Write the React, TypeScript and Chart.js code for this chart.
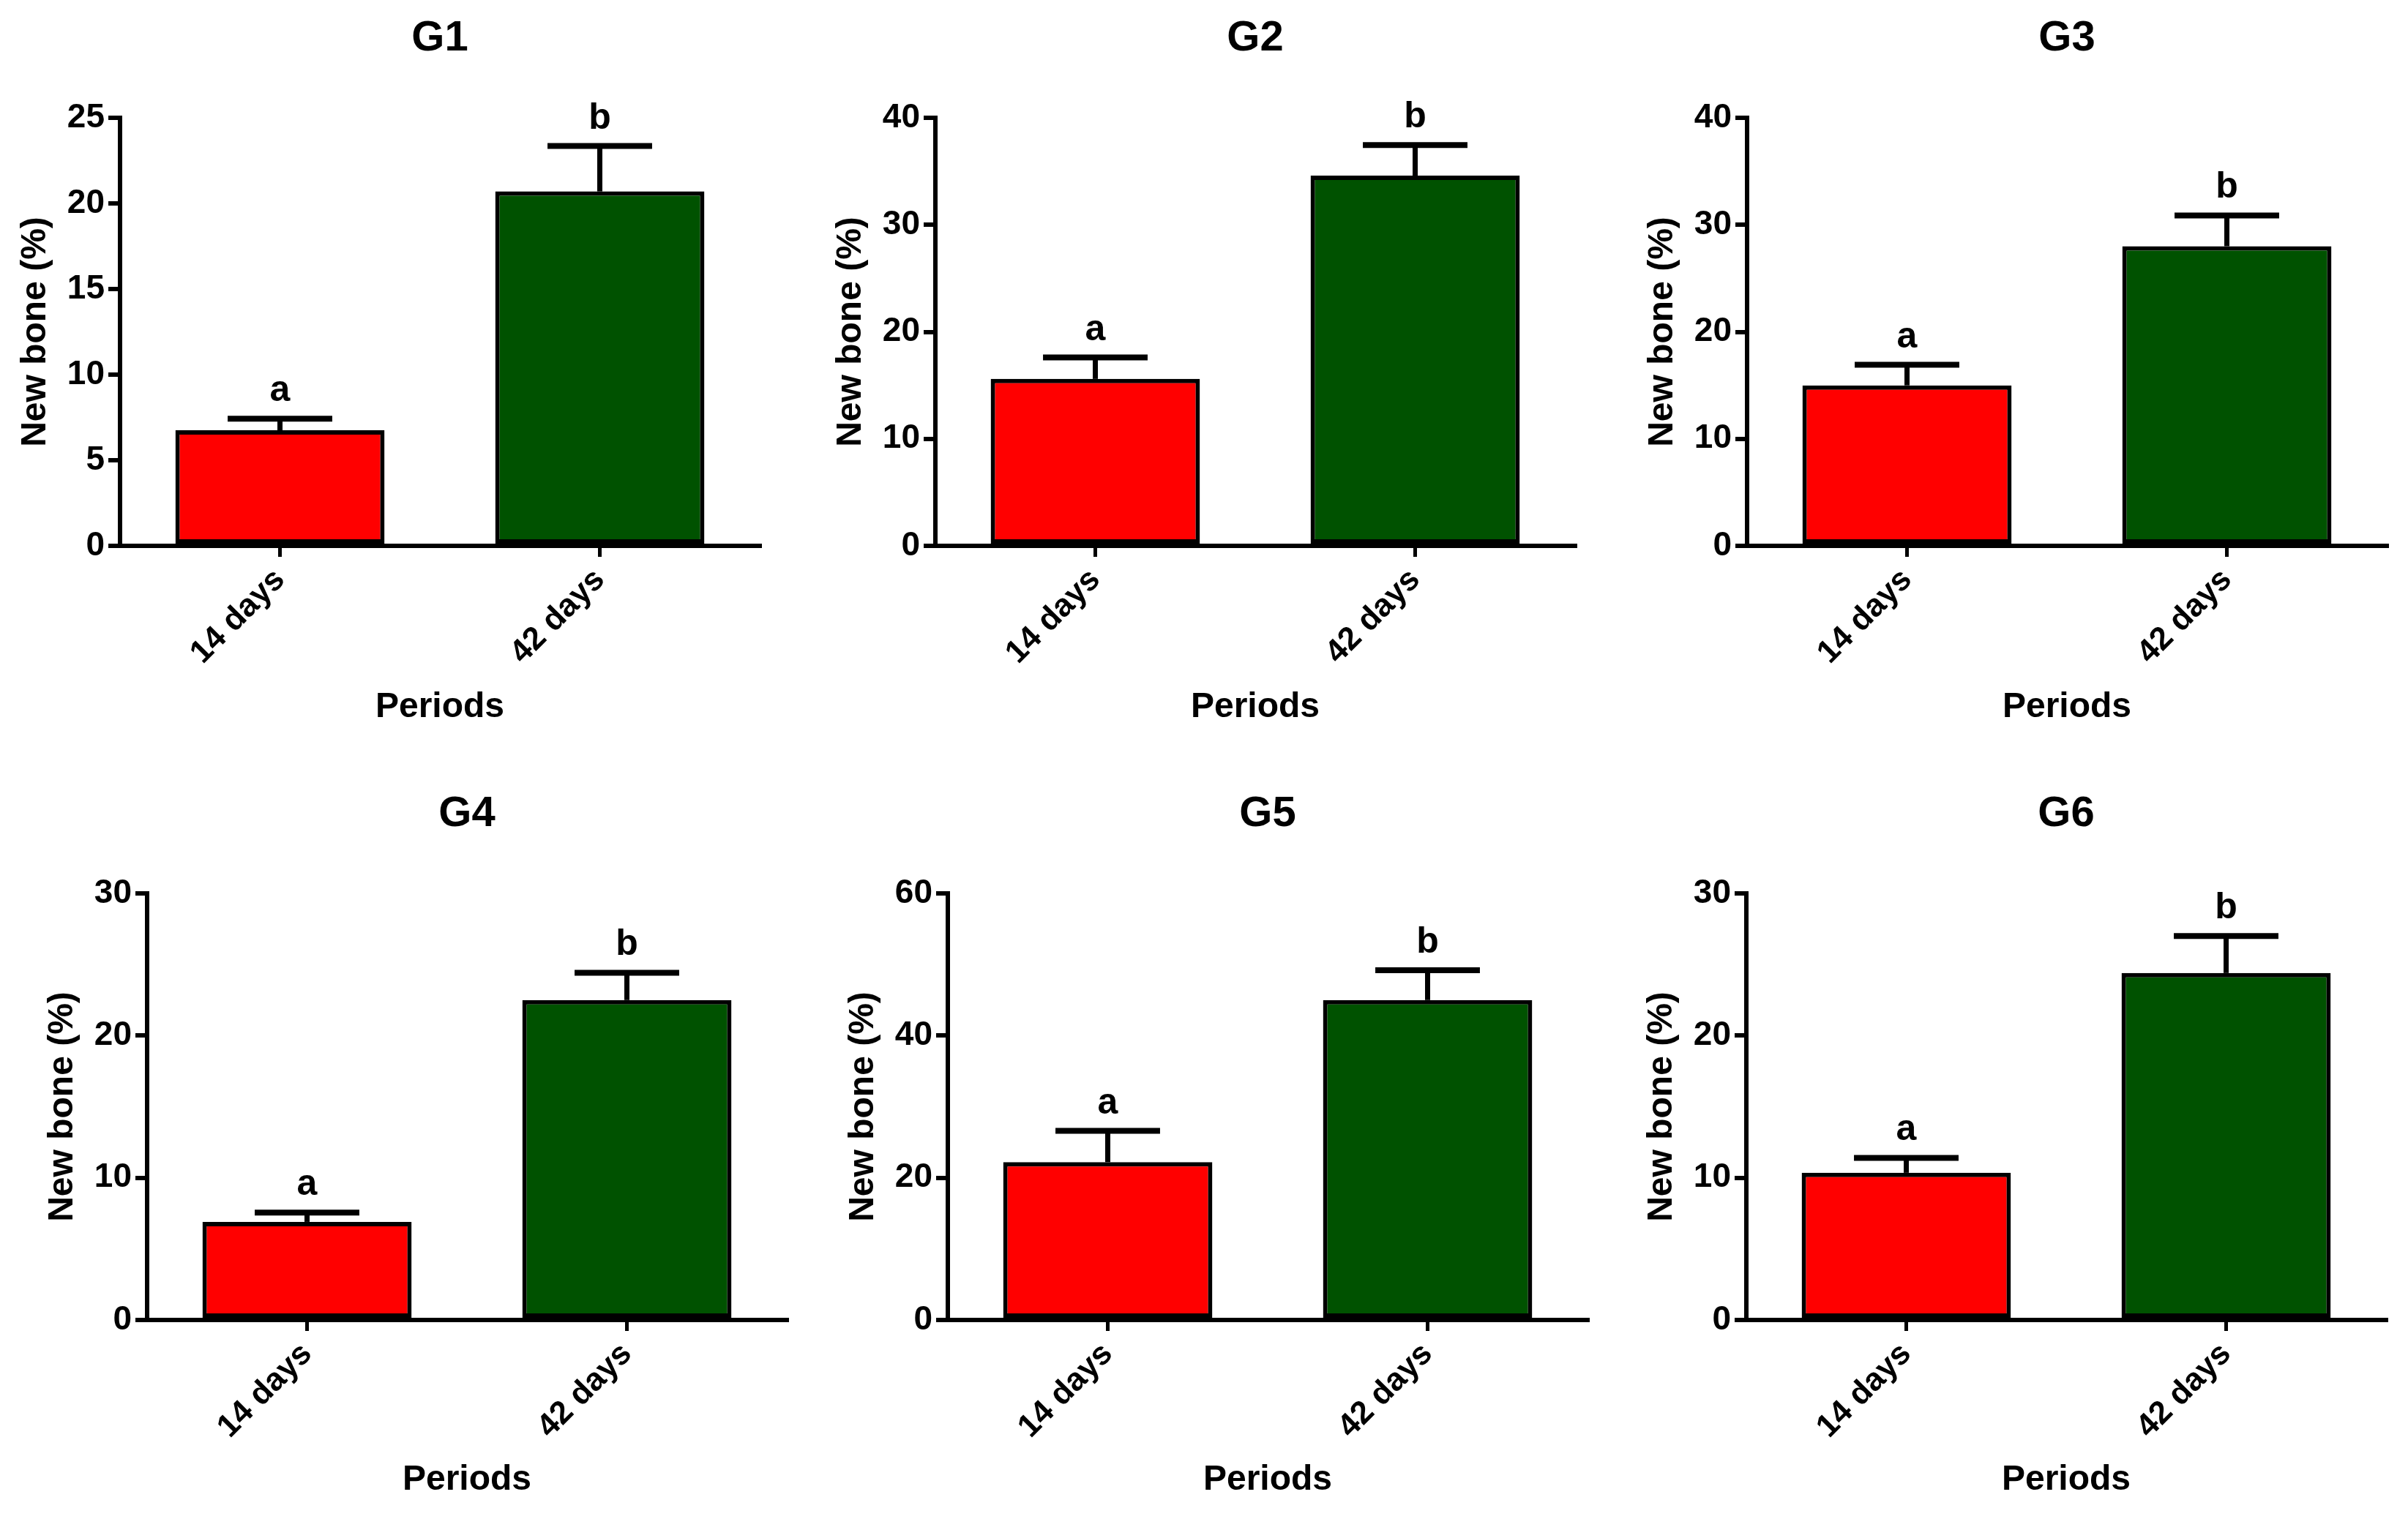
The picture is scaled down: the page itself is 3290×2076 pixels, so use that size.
import React, { useEffect, useRef } from "react";
import { Chart, registerables } from "chart.js";

Chart.register(...registerables);

// ---------- data ----------
const categories = ["14 days", "42 days"];
const groupLetters = ["a", "b"];
const panelTitles = ["G1", "G2", "G3", "G4", "G5", "G6"];

const g1Mean = [6.75, 20.7];
const g1Err = [0.68, 2.65];
const g2Mean = [15.6, 34.6];
const g2Err = [2.0, 2.85];
const g3Mean = [15.0, 28.0];
const g3Err = [1.92, 2.88];
const g4Mean = [6.9, 22.5];
const g4Err = [0.65, 1.92];
const g5Mean = [22.2, 45.0];
const g5Err = [4.4, 4.2];
const g6Mean = [10.35, 24.4];
const g6Err = [1.05, 2.6];

const yMaxTicks = [25, 40, 40, 30, 60, 30];
const yStepTicks = [5, 10, 10, 10, 20, 10];

const yAxisTitle = "New bone (%)";
const xAxisTitle = "Periods";

const means = [g1Mean, g2Mean, g3Mean, g4Mean, g5Mean, g6Mean];
const errs = [g1Err, g2Err, g3Err, g4Err, g5Err, g6Err];

// ---------- styling / layout ----------
const FONT = "'Liberation Sans', Arial, Helvetica, sans-serif";
const BAR_COLORS = ["#ff0000", "#005200"];
const Y_SCALE_W = 164;
const AREA_W = 874;
const RIGHT_PAD = 26;
const TITLE_SIZE = 58;
const AXIS_TITLE_SIZE = 48;

const ROWS = [
  { top: 0, height: 1040, areaTop: 161, areaBottom: 746, titleY: 53, xTitleY: 967 },
  { top: 1040, height: 1036, areaTop: 1221, areaBottom: 1804, titleY: 1113, xTitleY: 2023 },
];
const PANELS = [
  { axisX: 164, row: 0 },
  { axisX: 1278, row: 0 },
  { axisX: 2387, row: 0 },
  { axisX: 201, row: 1 },
  { axisX: 1295, row: 1 },
  { axisX: 2386, row: 1 },
];

function Panel({ idx }: { idx: number }) {
  const ref = useRef<HTMLCanvasElement | null>(null);
  const p = PANELS[idx];
  const r = ROWS[p.row];
  const left = p.axisX - Y_SCALE_W;
  const width = Y_SCALE_W + AREA_W + RIGHT_PAD;
  const height = r.height;

  useEffect(() => {
    if (!ref.current) return;
    const titleLH = TITLE_SIZE * 1.2;
    const relTitleY = r.titleY - r.top;
    const titlePadTop = relTitleY - titleLH / 2;
    const titlePadBottom = r.areaTop - r.top - titlePadTop - titleLH;
    const xScaleH = r.top + r.height - r.areaBottom;
    const axLH = AXIS_TITLE_SIZE * 1.2;
    const xTitlePadBottom = r.top + r.height - r.xTitleY - axLH / 2;
    const yTitlePadTop = Y_SCALE_W - 115 - axLH / 2;

    const meanArr = means[idx];
    const errArr = errs[idx];

    const errorBars = {
      id: "errorBars" + idx,
      afterDatasetsDraw(chart: any) {
        const ctx = chart.ctx;
        const yScale = chart.scales.y;
        const meta = chart.getDatasetMeta(0);
        ctx.save();
        ctx.strokeStyle = "#000";
        ctx.fillStyle = "#000";
        meta.data.forEach((bar: any, i: number) => {
          const x = bar.x;
          const yBar = bar.y;
          const yTop = yScale.getPixelForValue(meanArr[i] + errArr[i]);
          const capHalf = bar.width / 4;
          ctx.lineWidth = 7;
          ctx.beginPath();
          ctx.moveTo(x, yBar);
          ctx.lineTo(x, yTop);
          ctx.stroke();
          ctx.lineWidth = 8;
          ctx.beginPath();
          ctx.moveTo(x - capHalf, yTop);
          ctx.lineTo(x + capHalf, yTop);
          ctx.stroke();
          ctx.font = `bold 50px ${FONT}`;
          ctx.textAlign = "center";
          ctx.textBaseline = "alphabetic";
          ctx.fillText(groupLetters[i], x, yTop - 24);
        });
        ctx.restore();
      },
    };

    const chart = new Chart(ref.current, {
      type: "bar",
      data: {
        labels: categories,
        datasets: [
          {
            data: meanArr,
            backgroundColor: BAR_COLORS,
            borderColor: "#000",
            borderWidth: 6,
            borderSkipped: false,
            categoryPercentage: 1,
            barPercentage: 0.654,
          },
        ],
      },
      options: {
        responsive: false,
        animation: false,
        layout: { padding: { left: 0, right: RIGHT_PAD, top: 0, bottom: 0 } },
        plugins: {
          legend: { display: false },
          tooltip: { enabled: false },
          title: {
            display: true,
            fullSize: false,
            text: panelTitles[idx],
            color: "#000",
            font: { family: FONT, size: TITLE_SIZE, weight: "bold", lineHeight: 1.2 },
            padding: { top: titlePadTop, bottom: titlePadBottom },
          },
        },
        scales: {
          x: {
            type: "category",
            offset: true,
            afterFit: (s: any) => {
              s.height = xScaleH;
            },
            grid: {
              display: true,
              offset: false,
              drawOnChartArea: false,
              drawTicks: true,
              tickLength: 15,
              lineWidth: 5,
              color: "#000",
            },
            border: { display: true, color: "#000", width: 6 },
            ticks: {
              color: "#000",
              font: { family: FONT, size: 44, weight: "bold" },
              minRotation: 45,
              maxRotation: 45,
              padding: 6,
            },
            title: {
              display: true,
              text: xAxisTitle,
              color: "#000",
              font: { family: FONT, size: AXIS_TITLE_SIZE, weight: "bold", lineHeight: 1.2 },
              padding: { top: 0, bottom: xTitlePadBottom },
            },
          },
          y: {
            type: "linear",
            min: 0,
            max: yMaxTicks[idx],
            afterFit: (s: any) => {
              s.width = Y_SCALE_W;
            },
            grid: {
              display: true,
              drawOnChartArea: false,
              drawTicks: true,
              tickLength: 16,
              lineWidth: 6,
              color: "#000",
            },
            border: { display: true, color: "#000", width: 6 },
            ticks: {
              stepSize: yStepTicks[idx],
              color: "#000",
              font: { family: FONT, size: 46, weight: "bold" },
              padding: 5,
            },
            title: {
              display: true,
              text: yAxisTitle,
              color: "#000",
              font: { family: FONT, size: AXIS_TITLE_SIZE, weight: "bold", lineHeight: 1.2 },
              padding: { top: yTitlePadTop, bottom: 0 },
            },
          },
        },
      } as any,
      plugins: [errorBars],
    });
    return () => chart.destroy();
  }, [idx]);

  return (
    <canvas
      ref={ref}
      width={width}
      height={height}
      style={{ position: "absolute", left, top: r.top, width, height }}
    />
  );
}

export default function App() {
  return (
    <div
      style={{
        position: "absolute",
        left: 0,
        top: 0,
        width: 3290,
        height: 2076,
        background: "#fff",
        overflow: "hidden",
      }}
    >
      {panelTitles.map((_, i) => (
        <Panel key={i} idx={i} />
      ))}
    </div>
  );
}
